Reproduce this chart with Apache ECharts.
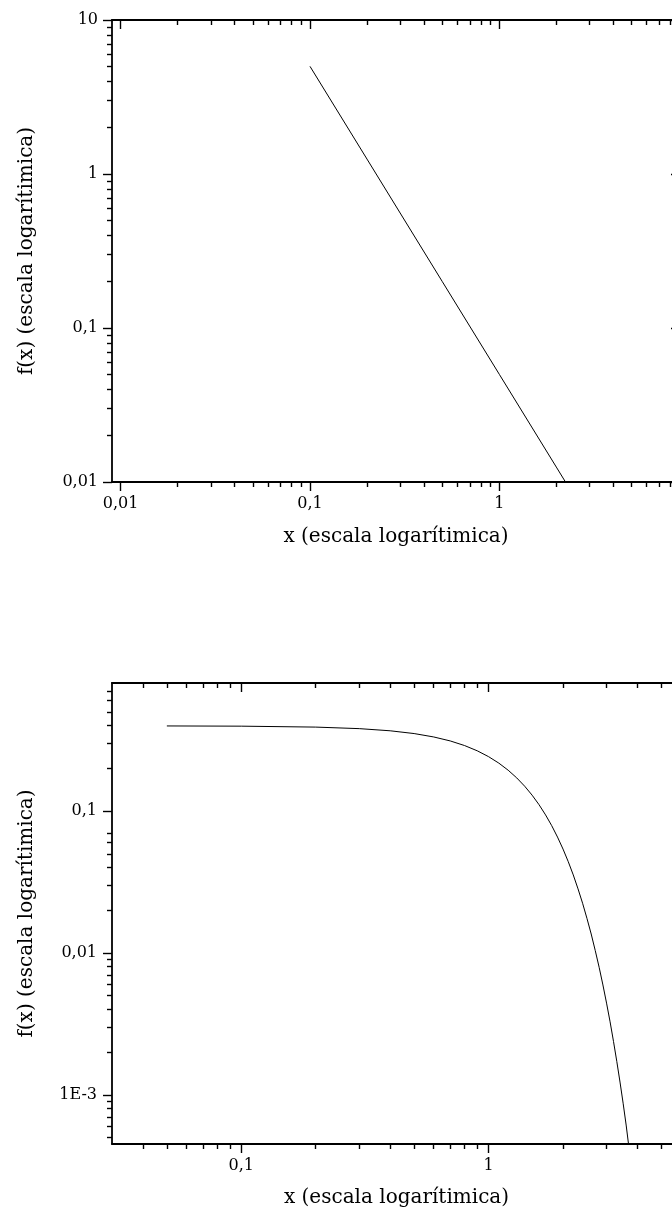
<!DOCTYPE html>
<html>
<head>
<meta charset="utf-8">
<script src="https://cdn.jsdelivr.net/npm/echarts@6/dist/echarts.min.js"></script>
<style>
  html, body { margin: 0; padding: 0; background: #fff; }
  #main { width: 672px; height: 1214px; }
</style>
</head>
<body>
<div id="main"></div>
<script>
// grafico de arriba: recta en log-log
const x1 = [0.1, 0.2, 0.5, 1, 2, 2.236]
const y1 = [5, 1.25, 0.2, 0.05, 0.0125, 0.01]

// grafico de abajo: campana
const x2 = [0.05, 0.1, 0.2, 0.3, 0.4, 0.5, 0.6, 0.7, 0.8, 0.9, 1.0, 1.1, 1.2, 1.3, 1.4, 1.5, 1.6,
  1.7, 1.8, 1.9, 2.0, 2.1, 2.2, 2.3, 2.4, 2.5, 2.6, 2.7, 2.8, 2.9, 3.0, 3.1, 3.2, 3.3, 3.4, 3.5,
  3.6, 3.68]
const y2 = [0.3984, 0.397, 0.391, 0.3814, 0.3683, 0.3521, 0.3332, 0.3123, 0.2897, 0.2661, 0.242,
  0.2179, 0.1942, 0.1714, 0.1497, 0.1295, 0.1109, 0.094, 0.079, 0.0656, 0.054, 0.044, 0.0355,
  0.0283, 0.0224, 0.0175, 0.0136, 0.0104, 0.00792, 0.00595, 0.00443, 0.00327, 0.00238, 0.00172,
  0.00123, 0.000873, 0.000612, 0.00045]

// marcas de los ejes
const xTicks1 = [0.01, 0.1, 1]
const yTicks1 = [0.01, 0.1, 1, 10]
const xMinor1 = [0.02, 0.03, 0.04, 0.05, 0.06, 0.07, 0.08, 0.09, 0.2, 0.3, 0.4, 0.5, 0.6, 0.7, 0.8, 0.9,
  2, 3, 4, 5, 6, 7, 8, 9]
const yMinor1 = [0.02, 0.03, 0.04, 0.05, 0.06, 0.07, 0.08, 0.09, 0.2, 0.3, 0.4, 0.5, 0.6, 0.7, 0.8, 0.9,
  2, 3, 4, 5, 6, 7, 8, 9]
const xTicks2 = [0.1, 1]
const yTicks2 = [0.001, 0.01, 0.1]
const xMinor2 = [0.04, 0.05, 0.06, 0.07, 0.08, 0.09, 0.2, 0.3, 0.4, 0.5, 0.6, 0.7, 0.8, 0.9, 2, 3, 4, 5]
const yMinor2 = [0.0005, 0.0006, 0.0007, 0.0008, 0.0009, 0.002, 0.003, 0.004, 0.005, 0.006, 0.007,
  0.008, 0.009, 0.02, 0.03, 0.04, 0.05, 0.06, 0.07, 0.2, 0.3, 0.4, 0.5, 0.6, 0.7]

const xName = 'x (escala logarítimica)'
const yName = 'f(x) (escala logarítimica)'

const font = 'DejaVu Serif'

function fmt(v) {
  if (v < 0.005) return '1E' + Math.round(Math.log10(v))
  return String(v).replace('.', ',')
}

// 4 ejes por lado: principal con etiquetas, menor, y sus copias del otro lado hacia adentro
function axes(g, kind, min, max, major, minor, opt) {
  const side = kind === 'x' ? ['bottom', 'top'] : ['left', 'right']
  const line = { onZero: false, lineStyle: { color: '#000', width: 1.8 } }
  const tickStyle = { color: '#000', width: 1.4 }
  const base = { type: 'log', gridIndex: g, min: min, max: max, splitLine: { show: false } }
  return [
    {
      ...base, position: side[0], axisLine: line,
      axisTick: { length: 9, customValues: major, lineStyle: tickStyle },
      axisLabel: {
        customValues: major, formatter: fmt, margin: opt.margin,
        color: '#000', fontFamily: font, fontSize: 16
      },
      name: opt.name, nameLocation: 'middle', nameGap: opt.nameGap,
      nameTextStyle: { color: '#000', fontFamily: font, fontSize: 20 }
    },
    {
      ...base, position: side[0], axisLine: { show: false, onZero: false },
      axisTick: { length: 5, customValues: minor, lineStyle: tickStyle },
      axisLabel: { show: false }
    },
    {
      ...base, position: side[1], axisLine: line,
      axisTick: { inside: true, length: 9, customValues: major, lineStyle: tickStyle },
      axisLabel: { show: false }
    },
    {
      ...base, position: side[1], axisLine: { show: false, onZero: false },
      axisTick: { inside: true, length: 5, customValues: minor, lineStyle: tickStyle },
      axisLabel: { show: false }
    }
  ]
}

const chart = echarts.init(document.getElementById('main'))

const option = {
  animation: false,
  backgroundColor: '#fff',
  grid: [
    { left: 112, top: 20, width: 568, height: 462, containLabel: false, outerBoundsMode: 'none' },
    { left: 112, top: 683, width: 569, height: 461, containLabel: false, outerBoundsMode: 'none' }
  ],
  xAxis: [
    ...axes(0, 'x', 0.009, 9, xTicks1, xMinor1, { name: xName, nameGap: 45, margin: 14 }),
    ...axes(1, 'x', 0.03, 6, xTicks2, xMinor2, { name: xName, nameGap: 44, margin: 14 })
  ],
  yAxis: [
    ...axes(0, 'y', 0.01, 10, yTicks1, yMinor1, { name: yName, nameGap: 75, margin: 14 }),
    ...axes(1, 'y', 0.00045, 0.8, yTicks2, yMinor2, { name: yName, nameGap: 75, margin: 15 })
  ],
  series: [
    {
      type: 'line', xAxisIndex: 0, yAxisIndex: 0,
      data: x1.map((x, i) => [x, y1[i]]),
      symbol: 'none', lineStyle: { color: '#000', width: 1 }, clip: true
    },
    {
      type: 'line', xAxisIndex: 4, yAxisIndex: 4,
      data: x2.map((x, i) => [x, y2[i]]),
      symbol: 'none', lineStyle: { color: '#000', width: 1 }, clip: true
    }
  ]
}

option && chart.setOption(option)
</script>
</body>
</html>
